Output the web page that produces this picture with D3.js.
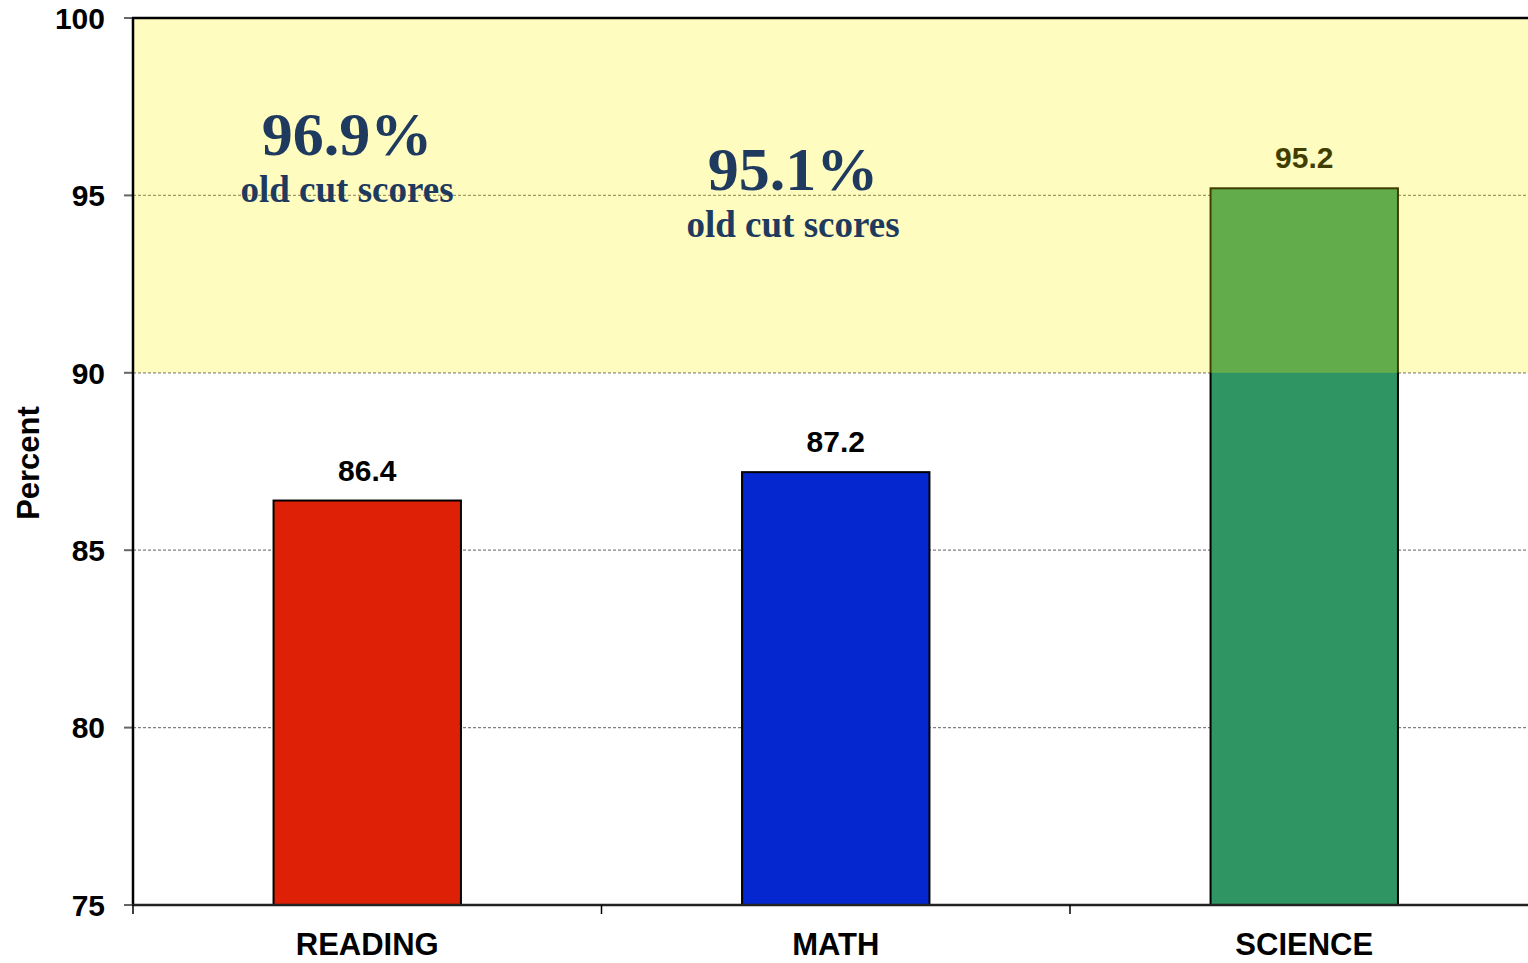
<!DOCTYPE html>
<html>
<head>
<meta charset="utf-8">
<script src="https://cdn.jsdelivr.net/npm/d3@7"></script>
<style>
  body { margin: 0; background: #fff; }
  text { font-family: "Liberation Sans", Arial, sans-serif; font-weight: bold; }
</style>
</head>
<body>
<div id="chart"></div>
<script>
// data
const categories = ["READING", "MATH", "SCIENCE"];
const values = [86.4, 87.2, 95.2];
const barColors = ["#DD2006", "#0527D0", "#2E9563"];
const yTicks = [75, 80, 85, 90, 95, 100];
const bandRange = [90, 100];
const notePercents = ["96.9%", "95.1%"];
const noteLabels = ["old cut scores", "old cut scores"];

const W = 1528, H = 963;
const margin = { top: 18, left: 133 };
const plotW = 1405.5, plotH = 887;

const svg = d3.select("#chart")
    .append("svg")
    .attr("width", W)
    .attr("height", H);

svg.append("rect").attr("width", W).attr("height", H).attr("fill", "#fff");

const g = svg.append("g")
    .attr("transform", `translate(${margin.left},${margin.top})`);

// scales
const x = d3.scaleBand()
    .domain(categories)
    .range([0, plotW])
    .paddingInner(0.6)
    .paddingOuter(0.3);

const y = d3.scaleLinear()
    .domain([75, 100])
    .range([plotH, 0]);

// grid lines
g.selectAll(".grid")
    .data(yTicks.filter(d => d > 75 && d < 100))
    .enter()
    .append("line")
    .attr("x1", 0)
    .attr("x2", plotW)
    .attr("y1", d => y(d))
    .attr("y2", d => y(d))
    .attr("stroke", "#808080")
    .attr("stroke-width", 1.2)
    .attr("stroke-dasharray", "3,2");

// bars
g.selectAll(".bar")
    .data(values)
    .enter()
    .append("rect")
    .attr("x", (d, i) => x(categories[i]))
    .attr("y", d => y(d))
    .attr("width", x.bandwidth())
    .attr("height", d => plotH - y(d))
    .attr("fill", (d, i) => barColors[i])
    .attr("stroke", "#000")
    .attr("stroke-width", 2);

// value labels
g.selectAll(".val")
    .data(values)
    .enter()
    .append("text")
    .attr("x", (d, i) => x(categories[i]) + x.bandwidth() / 2)
    .attr("y", d => y(d) - 20)
    .attr("text-anchor", "middle")
    .style("font-size", "30px")
    .attr("fill", "#000")
    .text(d => d.toFixed(1));

// translucent yellow band 90-100 over everything below
g.append("rect")
    .attr("x", 0)
    .attr("y", y(bandRange[1]))
    .attr("width", plotW)
    .attr("height", y(bandRange[0]) - y(bandRange[1]))
    .attr("fill", "rgb(255,245,5)")
    .attr("fill-opacity", 0.25);

// annotations
const notePos = [[347, 155, 202], [793, 190, 237]];
notePercents.forEach((t, i) => {
    const [cx, y1, y2] = notePos[i];
    svg.append("text")
        .attr("x", cx).attr("y", y1)
        .attr("text-anchor", "middle")
        .style("font-family", "'Liberation Serif', 'Times New Roman', serif")
        .style("font-size", "62px")
        .attr("fill", "#1F3A5F")
        .text(t);
    svg.append("text")
        .attr("x", cx).attr("y", y2)
        .attr("text-anchor", "middle")
        .style("font-family", "'Liberation Serif', 'Times New Roman', serif")
        .style("font-size", "37px")
        .attr("fill", "#1F3A5F")
        .text(noteLabels[i]);
});

// y axis ticks + labels
g.selectAll(".ytick")
    .data(yTicks)
    .enter()
    .append("line")
    .attr("x1", -9).attr("x2", 0)
    .attr("y1", d => y(d)).attr("y2", d => y(d))
    .attr("stroke", "#666")
    .attr("stroke-width", 2);

g.selectAll(".ylab")
    .data(yTicks)
    .enter()
    .append("text")
    .attr("x", -28)
    .attr("y", d => y(d))
    .attr("dy", "0.36em")
    .attr("text-anchor", "end")
    .style("font-size", "30px")
    .attr("fill", "#000")
    .text(d => d);

// frame lines
g.append("line").attr("x1", 0).attr("x2", 0).attr("y1", 0).attr("y2", plotH)
    .attr("stroke", "#000").attr("stroke-width", 2.5);
g.append("line").attr("x1", -1).attr("x2", plotW).attr("y1", 0).attr("y2", 0)
    .attr("stroke", "#000").attr("stroke-width", 2.5);
g.append("line").attr("x1", -1).attr("x2", plotW).attr("y1", plotH).attr("y2", plotH)
    .attr("stroke", "#222").attr("stroke-width", 2.5);

// x ticks at band boundaries
g.selectAll(".xtick")
    .data(categories)
    .enter()
    .append("line")
    .attr("x1", d => x(d) - x.step() * x.paddingOuter())
    .attr("x2", d => x(d) - x.step() * x.paddingOuter())
    .attr("y1", plotH).attr("y2", plotH + 9)
    .attr("stroke", "#000")
    .attr("stroke-width", 1.5);

// category labels
g.selectAll(".xlab")
    .data(categories)
    .enter()
    .append("text")
    .attr("x", d => x(d) + x.bandwidth() / 2)
    .attr("y", plotH + 50)
    .attr("text-anchor", "middle")
    .style("font-size", "31px")
    .attr("fill", "#000")
    .text(d => d);

// y axis title
svg.append("text")
    .attr("transform", "translate(39,463) rotate(-90)")
    .attr("text-anchor", "middle")
    .style("font-size", "31px")
    .attr("fill", "#000")
    .text("Percent");
</script>
</body>
</html>
